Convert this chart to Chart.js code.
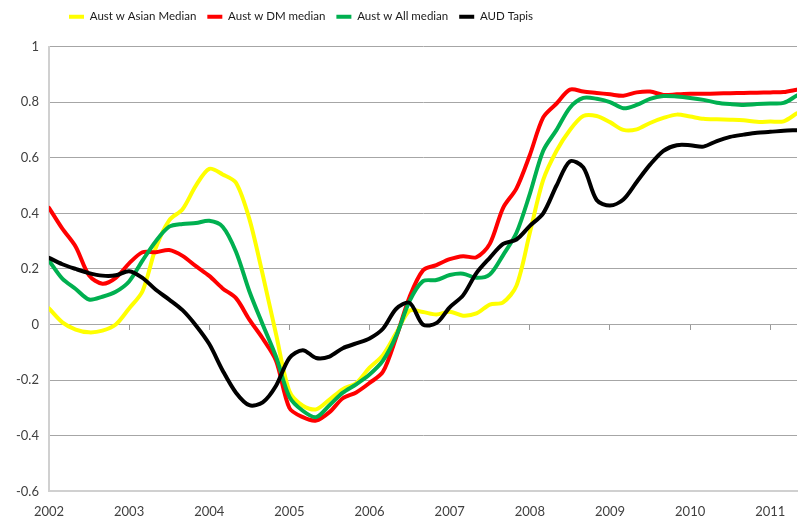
<!DOCTYPE html>
<html>
<head>
<meta charset="utf-8">
<script src="https://cdn.jsdelivr.net/npm/chart.js@4.4.1/dist/chart.umd.min.js"></script>
<style>
  html, body { margin: 0; background: #fff; }
  #wrap { width: 809px; height: 529px; }
</style>
</head>
<body>
<div id="wrap"><canvas id="chart"></canvas></div>
<script>
// bimonthly observations
const months = [
  '2002-01','2002-03','2002-05','2002-07','2002-09','2002-11',
  '2003-01','2003-03','2003-05','2003-07','2003-09','2003-11',
  '2004-01','2004-03','2004-05','2004-07','2004-09','2004-11',
  '2005-01','2005-03','2005-05','2005-07','2005-09','2005-11',
  '2006-01','2006-03','2006-05','2006-07','2006-09','2006-11',
  '2007-01','2007-03','2007-05','2007-07','2007-09','2007-11',
  '2008-01','2008-03','2008-05','2008-07','2008-09','2008-11',
  '2009-01','2009-03','2009-05','2009-07','2009-09','2009-11',
  '2010-01','2010-03','2010-05','2010-07','2010-09','2010-11',
  '2011-01','2011-03','2011-05'
];

const asianMedian = [
  0.058, 0.008, -0.018, -0.028, -0.022, 0.0,
  0.058, 0.12, 0.276, 0.375, 0.415, 0.50,
  0.56, 0.54, 0.51, 0.38, 0.18, -0.035,
  -0.24, -0.292, -0.305, -0.27, -0.232, -0.21,
  -0.155, -0.11, -0.03, 0.05, 0.045, 0.036,
  0.046, 0.032, 0.04, 0.072, 0.08, 0.14,
  0.33, 0.52, 0.625, 0.70, 0.75, 0.75,
  0.728, 0.70, 0.702, 0.725, 0.743, 0.755,
  0.748, 0.74, 0.738, 0.737, 0.735, 0.729,
  0.73, 0.731, 0.76
];

const dmMedian = [
  0.42, 0.345, 0.28, 0.177, 0.147, 0.168,
  0.22, 0.26, 0.26, 0.268, 0.247, 0.21,
  0.175, 0.13, 0.095, 0.018, -0.05, -0.13,
  -0.30, -0.333, -0.345, -0.315, -0.265, -0.244,
  -0.21, -0.17, -0.045, 0.1, 0.195, 0.214,
  0.235, 0.246, 0.242, 0.29, 0.42, 0.49,
  0.61, 0.745, 0.795, 0.845, 0.838, 0.833,
  0.828, 0.823, 0.835, 0.838, 0.826, 0.828,
  0.83, 0.83, 0.831, 0.832, 0.833, 0.834,
  0.835, 0.836, 0.845
];

const allMedian = [
  0.23, 0.165, 0.128, 0.09, 0.1, 0.118,
  0.155, 0.23, 0.30, 0.352, 0.362, 0.365,
  0.373, 0.352, 0.262, 0.12, 0.0, -0.116,
  -0.26, -0.31, -0.333, -0.29, -0.245, -0.215,
  -0.18, -0.13, -0.04, 0.085, 0.156, 0.16,
  0.178, 0.183, 0.168, 0.18, 0.25, 0.33,
  0.47, 0.625, 0.70, 0.78, 0.815, 0.812,
  0.80, 0.778, 0.79, 0.812, 0.822, 0.82,
  0.815, 0.808, 0.798, 0.793, 0.79, 0.793,
  0.795, 0.797, 0.824
];

const audTapis = [
  0.24, 0.217, 0.2, 0.185, 0.176, 0.177,
  0.192, 0.168, 0.125, 0.09, 0.052, -0.003,
  -0.07, -0.165, -0.245, -0.29, -0.28, -0.22,
  -0.12, -0.092, -0.12, -0.115, -0.085, -0.068,
  -0.05, -0.015, 0.057, 0.078, 0.0, 0.005,
  0.062, 0.105, 0.185, 0.24, 0.29, 0.306,
  0.355, 0.40, 0.50, 0.587, 0.565, 0.448,
  0.428, 0.45, 0.513, 0.575, 0.625, 0.645,
  0.645, 0.64, 0.66, 0.675, 0.683, 0.69,
  0.693, 0.697, 0.699
];

const seriesNames = ['Aust w Asian Median', 'Aust w DM median', 'Aust w All median', 'AUD Tapis'];
const seriesColors = ['#FFFF00', '#FF0000', '#00B050', '#000000'];
const seriesValues = [asianMedian, dmMedian, allMedian, audTapis];

// '2004-07' -> 2004.5
function toYear(m) {
  const [y, mo] = m.split('-').map(Number);
  return y + (mo - 1) / 12;
}

const xMin = toYear(months[0]);
const xMax = toYear(months[months.length - 1]);
const FONT = 'Lato, "Liberation Sans", sans-serif';

const datasets = seriesValues.map((vals, i) => ({
  label: seriesNames[i],
  data: months.map((m, j) => ({ x: toYear(m), y: vals[j] })),
  borderColor: seriesColors[i],
  backgroundColor: seriesColors[i],
  borderWidth: 4,
  pointRadius: 0,
  tension: 0.3,
  borderJoinStyle: 'round',
  borderCapStyle: 'round',
  order: seriesValues.length - i   // last series on top, like Excel
}));

// Excel puts the legend a bit left of centre and close to the top edge
const legendPlacement = {
  id: 'legendPlacement',
  afterLayout(chart) {
    const lg = chart.legend;
    const dx = 58 - lg.left;
    const dy = 0 - lg.top;
    lg.left += dx; lg.right += dx;
    lg.top += dy; lg.bottom += dy;
  }
};

new Chart(document.getElementById('chart'), {
  type: 'line',
  data: { datasets: datasets },
  plugins: [legendPlacement],
  options: {
    responsive: true,
    maintainAspectRatio: false,
    animation: false,
    layout: { padding: { left: 6, right: 12, top: 14, bottom: -4 } },
    plugins: {
      tooltip: { enabled: false },
      legend: {
        display: true,
        position: 'top',
        align: 'start',
        labels: {
          boxWidth: 15,
          boxHeight: 4,
          padding: 11,
          color: '#1a1a1a',
          font: { family: FONT, size: 11.5 },
          sort: (a, b) => a.datasetIndex - b.datasetIndex,
          generateLabels: chart =>
            Chart.defaults.plugins.legend.labels.generateLabels(chart)
              .map(l => Object.assign(l, { lineWidth: 0 }))
        }
      }
    },
    scales: {
      x: {
        type: 'linear',
        position: 'bottom',
        min: xMin,
        max: xMax,
        grid: { display: false, drawTicks: false },
        border: { display: true, color: '#d0d0d0', width: 2 },
        ticks: {
          stepSize: 1,
          includeBounds: false,
          padding: 13,
          color: '#404040',
          font: { family: FONT, size: 13 },
          callback: v => String(v)
        }
      },
      xMarks: {
        type: 'linear',
        axis: 'x',
        position: { y: 0 },
        min: xMin,
        max: xMax,
        border: { display: false },
        grid: { drawOnChartArea: false, drawTicks: true, tickLength: 5, color: '#9a9a9a' },
        ticks: { display: false, stepSize: 1, includeBounds: false }
      },
      y: {
        min: -0.6,
        max: 1,
        grid: {
          drawTicks: false,
          color: ctx => Math.abs(ctx.tick.value + 0.6) < 1e-6 ? '#d0d0d0' : '#a6a6a6'
        },
        border: { display: true, color: '#d0d0d0', width: 2 },
        ticks: {
          stepSize: 0.2,
          padding: 10,
          color: '#404040',
          font: { family: FONT, size: 13 },
          callback: v => String(Math.round(v * 10) / 10)
        }
      }
    }
  }
});
</script>
</body>
</html>
